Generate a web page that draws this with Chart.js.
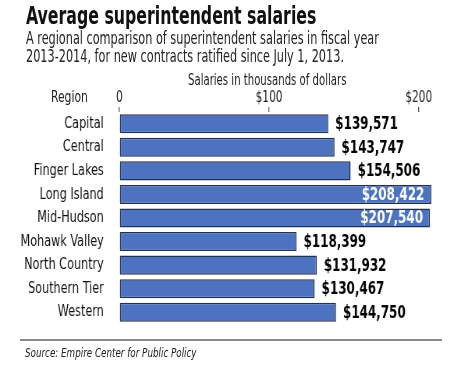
<!DOCTYPE html>
<html lang="en">
<head>
<meta charset="UTF-8" />
<title>Average superintendent salaries</title>
<script src="https://cdn.jsdelivr.net/npm/chart.js"></script>
<style>
  body {
    margin: 0;
    padding: 0;
    background: #fff;
    font-family: 'DejaVu Sans Condensed', 'DejaVu Sans', sans-serif;
    color: #111;
  }
  .wrap {
    position: relative;
    width: 474px;
    height: 379px;
    overflow: hidden;
  }
  /* canvas is drawn wider and squeezed so the text looks condensed */
  #chart {
    position: absolute;
    left: 0;
    top: 0;
    transform: scaleX(0.78);
    transform-origin: 0 0;
  }
  .txt {
    position: absolute;
    white-space: nowrap;
    transform-origin: 0 0;
  }
  .title {
    left: 26px;
    top: 2px;
    font-size: 24px;
    font-weight: bold;
    transform: scaleX(0.73);
  }
  .sub {
    left: 26px;
    top: 29px;
    font-size: 17px;
    line-height: 18px;
    color: #222;
    transform: scaleX(0.737);
  }
  .axis-title {
    left: 188px;
    top: 71px;
    font-size: 15px;
    color: #222;
    transform: scaleX(0.75);
  }
  .region {
    left: 51px;
    top: 88px;
    font-size: 15px;
    color: #222;
    transform: scaleX(0.8);
  }
  .rule {
    position: absolute;
    left: 20px;
    top: 339px;
    width: 422px;
    height: 2px;
    background: #8a8a8a;
  }
  .source {
    left: 25px;
    top: 345px;
    font-size: 13px;
    font-style: italic;
    color: #222;
    transform: scaleX(0.75);
  }
</style>
</head>
<body>
<div class="wrap">
  <canvas id="chart" width="608" height="379"></canvas>
  <div class="txt title">Average superintendent salaries</div>
  <div class="txt sub">A regional comparison of superintendent salaries in fiscal year<br>2013-2014, for new contracts ratified since July 1, 2013.</div>
  <div class="txt axis-title">Salaries in thousands of dollars</div>
  <div class="txt region">Region</div>
  <div class="rule"></div>
  <div class="txt source">Source: Empire Center for Public Policy</div>
</div>

<script>
  // Data (salaries in thousands of dollars)
  const regions = ["Capital", "Central", "Finger Lakes", "Long Island", "Mid-Hudson",
                   "Mohawk Valley", "North Country", "Southern Tier", "Western"];
  const salaries = [139.571, 143.747, 154.506, 208.422, 207.540,
                    118.399, 131.932, 130.467, 144.750];
  const tickValues = [0, 100, 200];
  const tickLabels = ["0", "$100", "$200"];

  const FONT = "'DejaVu Sans Condensed', 'DejaVu Sans', sans-serif";

  function money(v) {
    return '$' + Math.round(v * 1000).toLocaleString('en-US');
  }

  // value labels at bar ends (white inside the two longest bars)
  const valueLabels = {
    id: 'valueLabels',
    afterDatasetsDraw(chart) {
      const ctx = chart.ctx;
      const meta = chart.getDatasetMeta(0);
      ctx.save();
      ctx.font = 'bold 17px ' + FONT;
      ctx.textBaseline = 'middle';
      meta.data.forEach((bar, i) => {
        const v = salaries[i];
        if (v > 180) {
          ctx.fillStyle = '#fff';
          ctx.textAlign = 'right';
          ctx.fillText(money(v), bar.x - 9, bar.y + 1);
        } else {
          ctx.fillStyle = '#000';
          ctx.textAlign = 'left';
          ctx.fillText(money(v), bar.x + 9, bar.y + 1);
        }
      });
      ctx.restore();
    }
  };

  new Chart(document.getElementById('chart'), {
    type: 'bar',
    data: {
      labels: regions,
      datasets: [{
        data: salaries,
        backgroundColor: '#4d72c0',
        borderColor: '#22304f',
        borderWidth: 1.5,
        borderSkipped: false,
        barPercentage: 0.81,
        categoryPercentage: 1
      }]
    },
    options: {
      indexAxis: 'y',
      responsive: false,
      animation: false,
      layout: { padding: { top: 86, bottom: 55, left: 0, right: 52 } },
      plugins: {
        legend: { display: false },
        tooltip: { enabled: false }
      },
      scales: {
        x: {
          position: 'top',
          min: 0,
          max: 210,
          afterBuildTicks(scale) {
            scale.ticks = tickValues.map(v => ({ value: v }));
          },
          afterFit(scale) { scale.height = 26; },
          ticks: {
            callback: (v) => tickLabels[tickValues.indexOf(v)],
            color: '#222',
            font: { family: FONT, size: 15 },
            padding: 0,
            maxRotation: 0
          },
          grid: {
            drawOnChartArea: false,
            drawTicks: true,
            tickLength: 5,
            color: '#555',
            lineWidth: 1.3
          },
          border: { display: false }
        },
        y: {
          afterFit(scale) { scale.width = 153; },
          ticks: {
            color: '#111',
            font: { family: FONT, size: 16 },
            padding: 12
          },
          grid: { display: false },
          border: { display: false }
        }
      }
    },
    plugins: [valueLabels]
  });
</script>
</body>
</html>
